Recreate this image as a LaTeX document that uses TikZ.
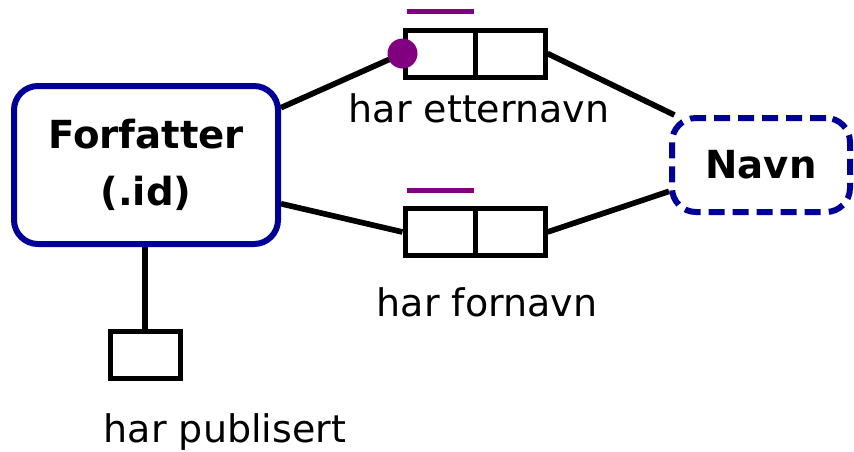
\documentclass[tikz,border=0pt]{standalone}
\usepackage{fontspec}
\setmainfont{DejaVu Sans}
\usetikzlibrary{calc}
\definecolor{entity}{RGB}{0, 0, 150}
\definecolor{constraint}{RGB}{128, 0, 128}

\tikzset{
    entitybox/.style={draw=entity, line width=4.5pt, rounded corners=18pt, align=center, font=\fontsize{29}{43}\selectfont\bfseries},
    rolebox/.style={draw, line width=3.75pt, minimum width=52.5pt, minimum height=35.25pt, inner sep=0pt},
    link/.style={line width=4.25pt},
    label/.style={font=\fontsize{28.5}{32}\selectfont}
}

\begin{document}
\begin{tikzpicture}[x=0.75pt, y=-0.75pt]
        \useasboundingbox (0,0) rectangle (854,451);

        % object types
        \node[entitybox, minimum width=198pt, minimum height=118.5pt] (forfatter) at (146,165) {Forfatter\\(.id)};
        \node[entitybox, dashed, dash pattern=on 12pt off 6pt, minimum width=133.5pt, minimum height=70.5pt] (navn) at (761,165) {Navn};

        % har etternavn
        \node[rolebox] (etter1) at (440,53.5) {};
        \node[rolebox] (etter2) at (510,53.5) {};
        \draw[link] (forfatter.23) -- (etter1.west);
        \draw[link] (etter2.east) -- (navn.150);
        \draw[constraint, line width=3.75pt] ($(etter1.north west)+(4,-16)$) -- ($(etter1.north east)+(-4,-16)$);
        \node[circle, fill=constraint, minimum size=22.5pt, inner sep=0pt] (mandatory) at (etter1.west) {};
        \node[label] (etterlabel) at (479,108) {har etternavn};

        % har fornavn
        \node[rolebox] (for1) at (440,232) {};
        \node[rolebox] (for2) at (510,232) {};
        \draw[link] (forfatter.-16) -- (for1.west);
        \draw[link] (for2.east) -- (navn.196);
        \draw[constraint, line width=3.75pt] ($(for1.north west)+(4,-16)$) -- ($(for1.north east)+(-4,-16)$);
        \node[label] (forlabel) at (487,302) {har fornavn};

        % har publisert
        \node[rolebox] (publ) at (145,355) {};
        \draw[link] (forfatter.south -| publ) -- (publ.north);
        \node[label] (publabel) at (225,432) {har publisert};

    \end{tikzpicture}
\end{document}
